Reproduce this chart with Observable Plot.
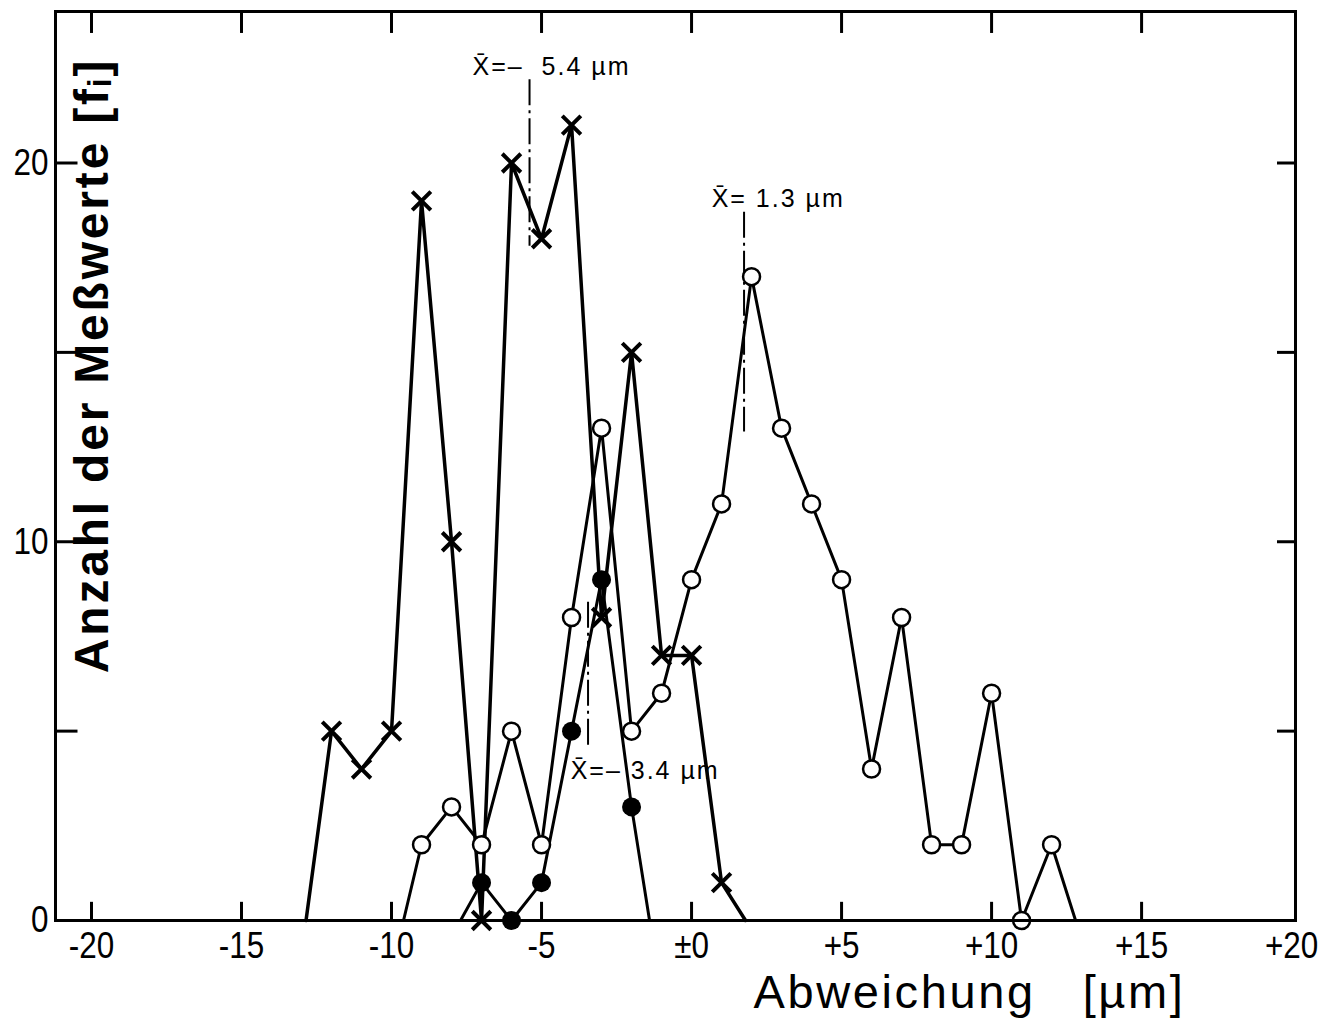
<!DOCTYPE html>
<html><head><meta charset="utf-8">
<script src="https://cdn.jsdelivr.net/npm/d3@7"></script>
<script src="https://cdn.jsdelivr.net/npm/@observablehq/plot@0.6"></script>
<style>
html,body{margin:0;padding:0;background:#fff;}
</style></head><body><div id="chart"></div>
<script>
// Series "x" (crosses): deviation [µm] and frequency f_i (first/last = baseline ends of the polyline)
const crossX = [-12.85, -12, -11, -10, -9, -8, -7, -6, -5, -4, -3, -2, -1, 0, 1, 1.8];
const crossF = [0, 5, 4, 5, 19, 10, 0, 20, 18, 21, 8, 15, 7, 7, 1, 0];
// Series open circles
const openX = [-9.6, -9, -8, -7, -6, -5, -4, -3, -2, -1, 0, 1, 2, 3, 4, 5, 6, 7, 8, 9, 10, 11, 12, 12.8];
const openF = [0, 2, 3, 2, 5, 2, 8, 13, 5, 6, 9, 11, 17, 13, 11, 9, 4, 8, 2, 2, 6, 0, 2, 0];
// Series filled circles
const filledX = [-7.7, -7, -6, -5, -4, -3, -2, -1.4];
const filledF = [0, 1, 0, 1, 5, 9, 3, 0];

// Mean markers
const meanX = [-5.4, 1.75, -3.45];
const meanTop = [22.2, 18.7, 8.4];
const meanBottom = [17.8, 12.9, 4.6];
const meanLabels = ["X\u0304=\u2013  5.4 \u00b5m", "X\u0304= 1.3 \u00b5m", "X\u0304=\u2013 3.4 \u00b5m"];
const meanLabelX = [-7.3, 0.67, -4.03];
const meanLabelY = [22.54, 19.05, 3.96];

// Axes
const xTickValues = [-20, -15, -10, -5, 0, 5, 10, 15, 20];
const xTickLabels = ["-20", "-15", "-10", "-5", "\u00b10", "+5", "+10", "+15", "+20"];
const yTickValues = [5, 10, 15, 20];
const yLabelValues = [0, 10, 20];
const yLabelTexts = ["0", "10", "20"];
const xTitle = "Abweichung   [\u00b5m]";
const yTitle = "Anzahl der Me\u00dfwerte [f\u1d62]";
const xDomain = [-21.2, 20.13];
const yDomain = [0, 24];

const FONT = "'Liberation Sans',Arial,sans-serif";
const toPts = (xs, fs) => xs.map((x, i) => ({x, f: fs[i]}));
const inner = pts => pts.slice(1, -1);
const crosses = toPts(crossX, crossF);
const opens = toPts(openX, openF);
const filled = toPts(filledX, filledF);
const means = meanX.map((x, i) => ({x, y1: meanTop[i], y2: meanBottom[i], lx: meanLabelX[i], ly: meanLabelY[i], label: meanLabels[i]}));

const chart = Plot.plot({
  width: 1319, height: 1021,
  marginTop: 11, marginRight: 24, marginBottom: 101, marginLeft: 55,
  x: {domain: xDomain},
  y: {domain: yDomain},
  style: {fontFamily: FONT, fontSize: "36px", color: "black", background: "white"},
  marks: [
    Plot.axisX({ticks: xTickValues, tickFormat: d => xTickLabels[xTickValues.indexOf(d)], tickSize: 0, tickPadding: 11, label: null, fontSize: 36}),
    Plot.axisY({ticks: yLabelValues, tickFormat: d => yLabelTexts[yLabelValues.indexOf(d)], tickSize: 0, tickPadding: 7, label: null, fontSize: 36}),
    Plot.ruleX(xTickValues.filter(v => v < xDomain[1] - 0.5), {y1: yDomain[0], y2: yDomain[0] + 0.48, strokeWidth: 3}),
    Plot.ruleX(xTickValues.filter(v => v < xDomain[1] - 0.5), {y1: yDomain[1], y2: yDomain[1] - 0.58, strokeWidth: 3}),
    Plot.ruleY(yTickValues, {x1: xDomain[0], x2: xDomain[0] + 0.75, strokeWidth: 3}),
    Plot.ruleY(yTickValues, {x1: xDomain[1], x2: xDomain[1] - 0.6, strokeWidth: 3}),
    Plot.ruleX(means, {x: "x", y1: "y1", y2: "y2", strokeWidth: 2, strokeDasharray: "26,5,3,5"}),
    Plot.line(crosses, {x: "x", y: "f", strokeWidth: 3.5}),
    Plot.line(opens, {x: "x", y: "f", strokeWidth: 3}),
    Plot.line(filled, {x: "x", y: "f", strokeWidth: 3}),
    Plot.dot(inner(opens), {x: "x", y: "f", r: 8.5, fill: "white", stroke: "black", strokeWidth: 2.5}),
    Plot.dot(inner(filled), {x: "x", y: "f", r: 9.5, fill: "black"}),
    Plot.dot(inner(crosses), {x: "x", y: "f", symbol: "times", r: 8.5, stroke: "black", strokeWidth: 4}),
    Plot.frame({strokeWidth: 3}),
    Plot.text(means, {x: "lx", y: "ly", text: "label", textAnchor: "start", fontSize: 25}),
    Plot.text([xTitle], {frameAnchor: "bottom", text: d => d, textAnchor: "middle", lineAnchor: "middle", dx: 294, dy: 72, fontSize: 47}),
    Plot.text([yTitle], {frameAnchor: "left", text: d => d, rotate: -90, textAnchor: "middle", lineAnchor: "middle", dx: 37.5, dy: -100.5, fontSize: 48, fontWeight: "bold"})
  ]
});
document.getElementById("chart").appendChild(chart);

// typographic touches: condensed tick labels, letter spacing of titles/annotations
d3.select(chart).selectAll('g[aria-label="x-axis tick label"] text, g[aria-label="y-axis tick label"] text')
  .style("font-size", "37px")
  .attr("transform", function() { return (this.getAttribute("transform") || "") + " scale(0.85,1)"; });
d3.select(chart).selectAll("text").each(function() {
  const t = this.textContent;
  if (t.startsWith("Abweichung")) this.setAttribute("letter-spacing", "2.6");
  else if (t.startsWith("Anzahl")) this.setAttribute("letter-spacing", "2.8");
  else if (t.startsWith("X\u0304")) this.setAttribute("letter-spacing", "2");
});
</script>
</body></html>
